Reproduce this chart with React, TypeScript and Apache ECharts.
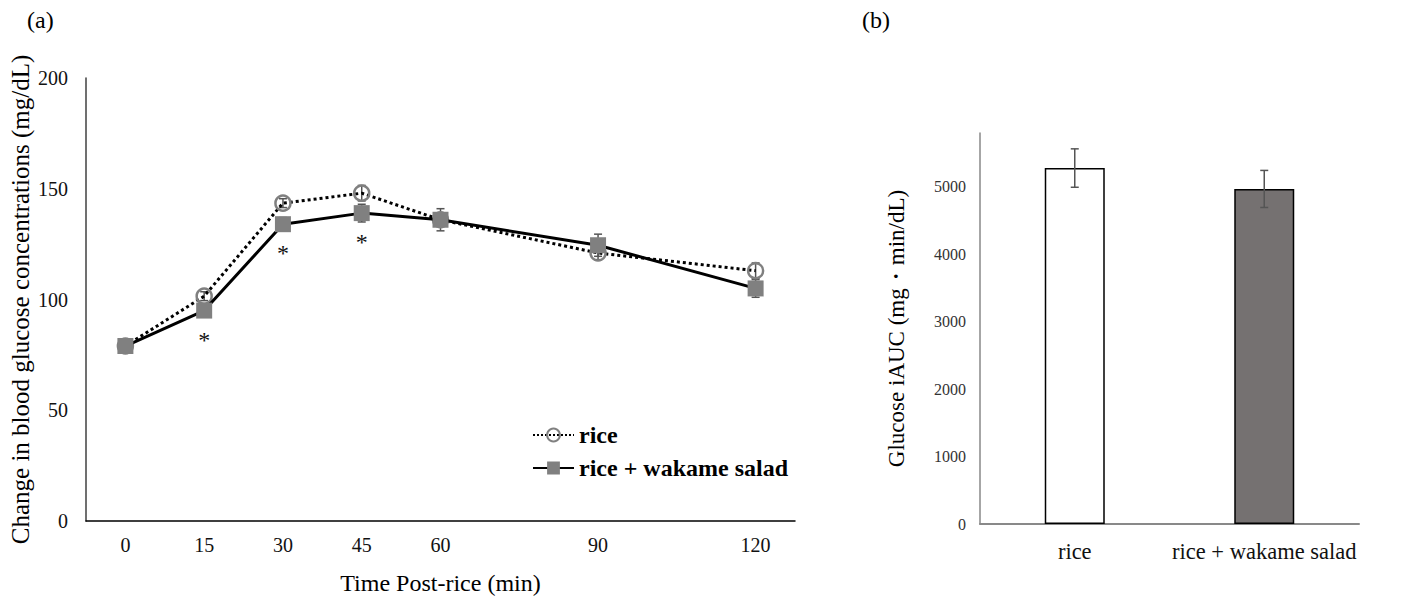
import React, { useEffect, useRef } from 'react';
import * as echarts from 'echarts';

const timePoints = [0, 15, 30, 45, 60, 90, 120];
const riceMean = [79, 101.5, 143.5, 148, 136, 121, 113];
const riceSE = [1.5, 2, 2, 3.5, 3, 3, 3.5];
const wakameMean = [79, 95, 134, 139, 136, 124.5, 105];
const wakameSE = [2, 3, 3, 4, 5, 5, 4];
const sigMarks = [false, true, true, true, false, false, false];

const groups = ['rice', 'rice + wakame salad'];
const iaucMean = [5280, 4970];
const iaucSE = [285, 275];
const barColors = ['#ffffff', '#757171'];

const FONT = 'Liberation Serif, serif';

function errRender(capHalf: number, color: string, width: number) {
  return (params: any, api: any) => {
    const x = api.value(0);
    const lo = api.coord([x, api.value(1)]);
    const hi = api.coord([x, api.value(2)]);
    const style = { stroke: color, lineWidth: width };
    return {
      type: 'group',
      children: [
        { type: 'line', shape: { x1: lo[0], y1: lo[1], x2: hi[0], y2: hi[1] }, style },
        { type: 'line', shape: { x1: hi[0] - capHalf, y1: hi[1], x2: hi[0] + capHalf, y2: hi[1] }, style },
        { type: 'line', shape: { x1: lo[0] - capHalf, y1: lo[1], x2: lo[0] + capHalf, y2: lo[1] }, style },
      ],
    };
  };
}

export default function App() {
  const ref = useRef<HTMLDivElement>(null);
  useEffect(() => {
    if (!ref.current) return;
    const chart = echarts.init(ref.current, undefined, { renderer: 'svg' });
    const option: any = {
      animation: false,
      backgroundColor: '#ffffff',
      textStyle: { fontFamily: FONT },
      graphic: [
        { type: 'text', left: 27, top: 8, style: { text: '(a)', fontSize: 24, fontFamily: FONT, fill: '#000' } },
        { type: 'text', left: 862, top: 8, style: { text: '(b)', fontSize: 24, fontFamily: FONT, fill: '#000' } },
      ],
      legend: {
        data: ['rice', 'rice + wakame salad'],
        orient: 'vertical',
        left: 532,
        top: 423,
        padding: 0,
        itemGap: 9,
        itemWidth: 41,
        itemHeight: 16,
        textStyle: { fontFamily: FONT, fontSize: 24, fontWeight: 'bold', color: '#000' },
      },
      grid: [
        { left: 86, top: 78, width: 709, height: 443 },
        { left: 980, top: 133, width: 379, height: 391 },
      ],
      xAxis: [
        {
          type: 'value',
          gridIndex: 0,
          min: -7.5,
          max: 127.5,
          interval: 7.5,
          axisLine: { show: true, onZero: false, lineStyle: { color: '#000', width: 1.5 } },
          axisTick: { show: false },
          splitLine: { show: false },
          axisLabel: {
            formatter: (v: number) => (timePoints.includes(v) ? String(v) : ''),
            fontSize: 20,
            color: '#111',
            fontFamily: FONT,
            margin: 14,
          },
          name: 'Time Post-rice (min)',
          nameLocation: 'middle',
          nameGap: 50,
          nameTextStyle: { fontSize: 24, fontFamily: FONT, color: '#000' },
        },
        {
          type: 'category',
          gridIndex: 1,
          data: groups,
          axisLine: { show: true, lineStyle: { color: '#898989', width: 2 } },
          axisTick: { show: false },
          axisLabel: { interval: 0, fontSize: 22.5, color: '#111', fontFamily: FONT, margin: 16 },
        },
      ],
      yAxis: [
        {
          type: 'value',
          gridIndex: 0,
          min: 0,
          max: 200,
          interval: 50,
          axisLine: { show: true, onZero: false, lineStyle: { color: '#404040', width: 1.5 } },
          axisTick: { show: false },
          splitLine: { show: false },
          axisLabel: { fontSize: 20, color: '#111', fontFamily: FONT, margin: 18 },
          name: 'Change in blood glucose concentrations (mg/dL)',
          nameLocation: 'middle',
          nameGap: 53,
          nameRotate: 90,
          nameTextStyle: { fontSize: 25, fontFamily: FONT, color: '#000' },
        },
        {
          type: 'value',
          gridIndex: 1,
          min: 0,
          max: 5800,
          interval: 1000,
          axisLine: { show: true, onZero: false, lineStyle: { color: '#898989', width: 1.5 } },
          axisTick: { show: false },
          splitLine: { show: false },
          axisLabel: {
            fontSize: 16,
            color: '#333',
            fontFamily: FONT,
            margin: 14,
            showMaxLabel: false,
            formatter: (v: number) => (v % 1000 === 0 ? String(v) : ''),
          },
          name: 'Glucose iAUC (mg・min/dL)',
          nameLocation: 'middle',
          nameGap: 72,
          nameRotate: 90,
          nameTextStyle: { fontSize: 23, fontFamily: FONT, color: '#000' },
        },
      ],
      series: [
        {
          name: 'riceErr',
          type: 'custom',
          xAxisIndex: 0,
          yAxisIndex: 0,
          z: 1,
          renderItem: errRender(4, '#555555', 1.5),
          data: timePoints.map((t, i) => [t, riceMean[i] - riceSE[i], riceMean[i] + riceSE[i]]),
        },
        {
          name: 'wakameErr',
          type: 'custom',
          xAxisIndex: 0,
          yAxisIndex: 0,
          z: 1,
          renderItem: errRender(4, '#555555', 1.5),
          data: timePoints.map((t, i) => [t, wakameMean[i] - wakameSE[i], wakameMean[i] + wakameSE[i]]),
        },
        {
          name: 'rice',
          type: 'line',
          xAxisIndex: 0,
          yAxisIndex: 0,
          z: 3,
          symbol: 'circle',
          symbolSize: 15,
          showAllSymbol: true,
          itemStyle: { color: 'rgba(255,255,255,0)', borderColor: '#808080', borderWidth: 2.5 },
          lineStyle: { color: '#000', width: 3, type: 'dotted' },
          data: timePoints.map((t, i) => [t, riceMean[i]]),
        },
        {
          name: 'rice + wakame salad',
          type: 'line',
          xAxisIndex: 0,
          yAxisIndex: 0,
          z: 4,
          symbol: 'rect',
          symbolSize: 16,
          showAllSymbol: true,
          itemStyle: { color: '#808080', borderWidth: 0 },
          lineStyle: { color: '#000', width: 3, type: 'solid' },
          label: {
            show: true,
            position: 'bottom',
            distance: 9,
            fontSize: 24,
            fontFamily: FONT,
            color: '#111',
            formatter: (p: any) => (sigMarks[p.dataIndex] ? '*' : ''),
          },
          data: timePoints.map((t, i) => [t, wakameMean[i]]),
        },
        {
          name: 'iAUC',
          type: 'bar',
          xAxisIndex: 1,
          yAxisIndex: 1,
          barWidth: 60,
          z: 2,
          itemStyle: { borderColor: '#000', borderWidth: 1.5 },
          data: iaucMean.map((v, i) => ({ value: v, itemStyle: { color: barColors[i] } })),
        },
        {
          name: 'iaucErr',
          type: 'custom',
          xAxisIndex: 1,
          yAxisIndex: 1,
          z: 5,
          renderItem: errRender(4, '#555555', 1.5),
          data: iaucMean.map((v, i) => [i, v - iaucSE[i], v + iaucSE[i]]),
        },
      ],
    };
    chart.setOption(option);
    return () => chart.dispose();
  }, []);
  return (
    <div
      ref={ref}
      style={{ position: 'fixed', left: 0, top: 0, width: 1418, height: 604, background: '#fff' }}
    />
  );
}
